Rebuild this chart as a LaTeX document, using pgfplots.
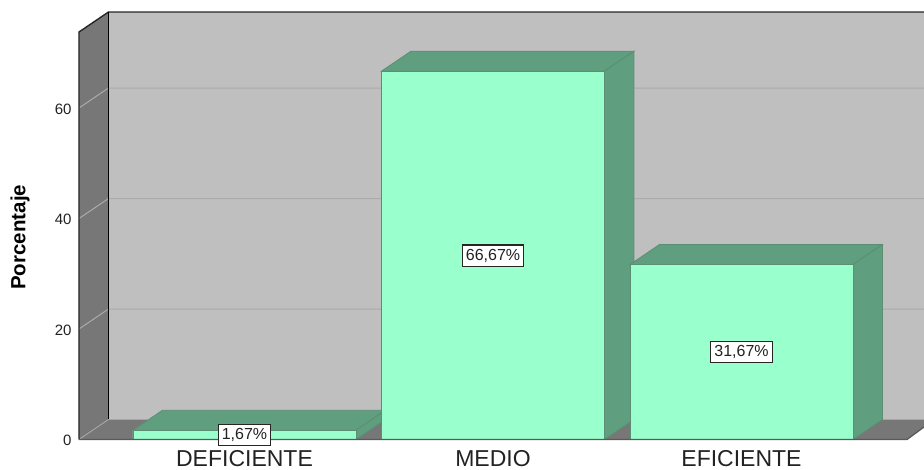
\documentclass[border=0pt]{standalone}
\usepackage{pgfplots}
\pgfplotsset{compat=1.18}
\usepackage{fontspec}
\setmainfont{Liberation Sans}
\definecolor{wall}{HTML}{BFBFBF}
\definecolor{side}{HTML}{777777}
\definecolor{gridc}{HTML}{ABABAB}
\definecolor{front}{HTML}{99FFCC}
\definecolor{shade}{HTML}{5F9E7F}
\definecolor{edge}{HTML}{5A8F74}
\definecolor{txt}{HTML}{222222}
\begin{document}
\begin{tikzpicture}[x=1pt,y=1pt]
\path[use as bounding box] (-79pt,-30.5pt) rectangle (845pt,439.5pt);
\begin{axis}[
  at={(0pt,0pt)}, anchor=south west,
  scale only axis, width=845pt, height=427.5pt,
  xmin=-0.666, xmax=2.7344, ymin=0, ymax=77.38,
  clip=false,
  axis line style={draw=none},
  major tick length=0pt,
  xtick={0,1,2},
  xticklabels={DEFICIENTE,MEDIO,EFICIENTE},
  ytick={0,20,40,60},
  xtick pos=lower, ytick pos=left,
  /pgf/number format/assume math mode=true,
  yticklabel style={font=\fontsize{15}{16}\selectfont, text=txt, xshift=-4pt, yshift=-1pt},
  xticklabel style={font=\fontsize{23}{25}\selectfont, text=txt, yshift=-7.5pt},
  ylabel={\textbf{Porcentaje}},
  every axis y label/.style={at={(axis cs:-0.9034,36.6)},rotate=90,anchor=center,font=\fontsize{20.5}{22}\selectfont,text=black},
]
% back wall
\addplot[fill=wall,draw=none] coordinates {(-0.5473,3.62)(-0.5473,77.38)(2.7344,77.38)(2.7344,3.62)} -- cycle;
% side wall
\addplot[fill=side,draw=none] coordinates {(-0.666,0)(-0.666,73.76)(-0.5473,77.38)(-0.5473,3.62)} -- cycle;
% floor
\addplot[fill=side,draw=none] coordinates {(-0.666,0)(-0.5473,3.62)(2.7344,3.62)(2.7344,2.26)(2.666,0)} -- cycle;
% grid
\addplot[gridc,line width=1pt] coordinates {(-0.666,20)(-0.5473,23.62)(2.7344,23.62)};
\addplot[gridc,line width=1pt] coordinates {(-0.666,40)(-0.5473,43.62)(2.7344,43.62)};
\addplot[gridc,line width=1pt] coordinates {(-0.666,60)(-0.5473,63.62)(2.7344,63.62)};
\addplot[gridc,line width=.8pt] coordinates {(-0.666,0)(-0.5473,3.62)};
% wall edges
\addplot[black!85,line width=1.4pt] coordinates {(-0.666,0)(-0.666,73.76)(-0.5473,77.38)(2.7344,77.38)};
\addplot[black,line width=1.2pt] coordinates {(-0.5473,77.38)(-0.5473,3.62)};
% top and side faces, left to right
\addplot[fill=shade,draw=edge,line width=.8pt] coordinates {(-0.4487,1.67)(-0.33,5.29)(0.5673,5.29)(0.4487,1.67)} -- cycle;
\addplot[fill=shade,draw=edge,line width=.8pt] coordinates {(0.4487,0)(0.5673,3.62)(0.5673,5.29)(0.4487,1.67)} -- cycle;
\addplot[fill=shade,draw=edge,line width=.8pt] coordinates {(0.5513,66.67)(0.67,70.29)(1.5673,70.29)(1.4487,66.67)} -- cycle;
\addplot[fill=shade,draw=edge,line width=.8pt] coordinates {(1.4487,0)(1.5673,3.62)(1.5673,70.29)(1.4487,66.67)} -- cycle;
\addplot[fill=shade,draw=edge,line width=.8pt] coordinates {(1.5513,31.67)(1.67,35.29)(2.5673,35.29)(2.4487,31.67)} -- cycle;
\addplot[fill=shade,draw=edge,line width=.8pt] coordinates {(2.4487,0)(2.5673,3.62)(2.5673,35.29)(2.4487,31.67)} -- cycle;
% front faces
\addplot[ybar,bar shift=0pt,bar width=223pt,fill=front,draw=edge,line width=.8pt] coordinates {(0,1.67)(1,66.67)(2,31.67)};
% front floor edge
\addplot[black!65,line width=1.3pt] coordinates {(-0.666,0)(2.666,0)(2.7344,2.26)};
% value labels
\node[draw=black!85,fill=white,line width=1.2pt,inner xsep=3.5pt,inner ysep=4pt,font=\fontsize{16}{17}\selectfont,text=txt] at (axis cs:0,0.8) {1,67\%};
\node[draw=black!85,fill=white,line width=1.2pt,inner xsep=3.5pt,inner ysep=4pt,font=\fontsize{16}{17}\selectfont,text=txt] at (axis cs:1,33.3) {66,67\%};
\node[draw=black!85,fill=white,line width=1.2pt,inner xsep=3.5pt,inner ysep=4pt,font=\fontsize{16}{17}\selectfont,text=txt] at (axis cs:2,15.8) {31,67\%};
\end{axis}
\end{tikzpicture}
\end{document}
